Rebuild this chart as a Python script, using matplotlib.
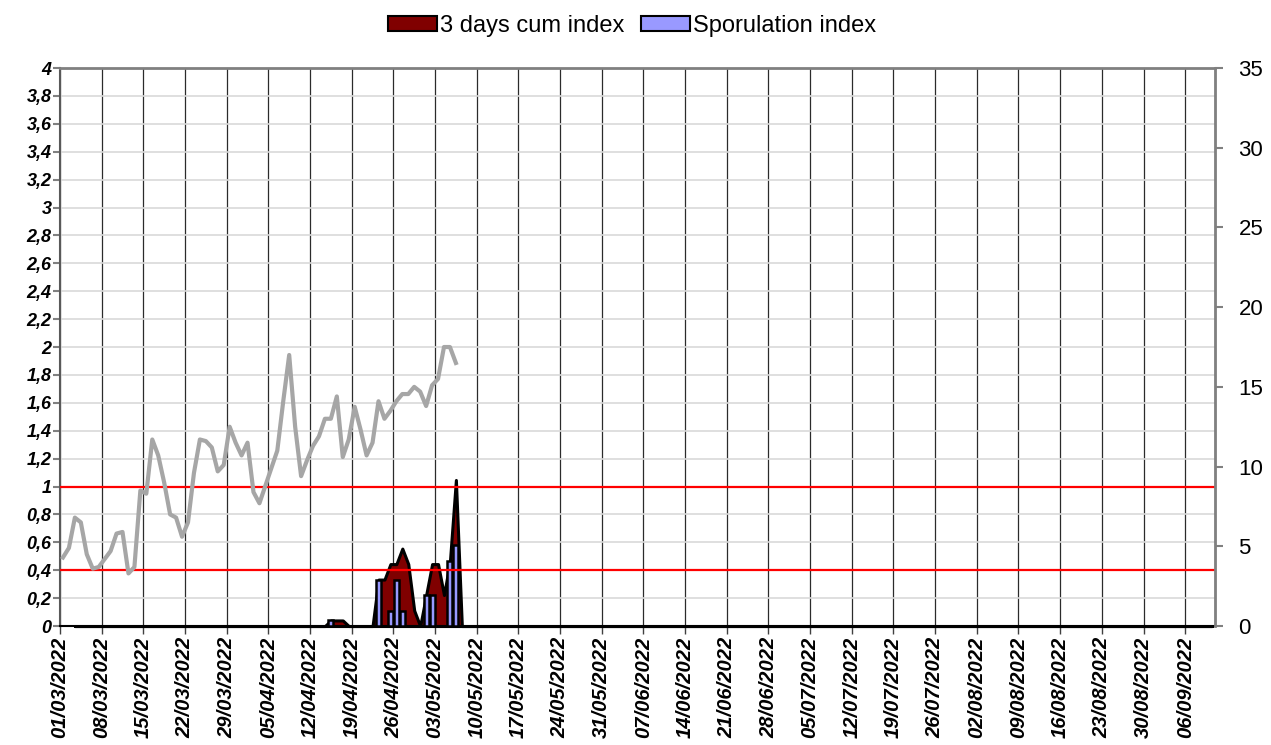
import numpy as np
import pandas as pd
import matplotlib
matplotlib.use("Agg")
import matplotlib.pyplot as plt
from matplotlib.patches import Patch

plt.rcParams["font.family"] = ["Liberation Sans", "DejaVu Sans"]

start = pd.Timestamp("2022-03-01")
n_days = 194

# daily temperature (right axis), one value per day from 01/03
temperature = [4.3, 4.9, 6.8, 6.5, 4.5, 3.6, 3.7, 4.2, 4.7, 5.8,
               5.9, 3.3, 3.7, 8.5, 8.3, 11.7, 10.7, 9.0, 7.0, 6.8,
               5.6, 6.5, 9.6, 11.7, 11.6, 11.2, 9.7, 10.1, 12.5, 11.5,
               10.7, 11.5, 8.4, 7.7, 8.8, 9.9, 11.0, 14.1, 17.0, 12.5,
               9.4, 10.4, 11.3, 11.9, 13.0, 13.0, 14.4, 10.6, 11.7, 13.75,
               12.3, 10.7, 11.5, 14.1, 13.0, 13.5, 14.1, 14.55, 14.55, 15.0,
               14.7, 13.8, 15.1, 15.5, 17.5, 17.5, 16.5]

# sporulation index (non-zero days, offset from 01/03)
spor_days = [45, 53, 55, 56, 57, 61, 62, 65, 66]
spor_vals = [0.04, 0.333, 0.111, 0.333, 0.111, 0.222, 0.222, 0.466, 0.581]

# 3 days cumulative index, series runs from day 2 to the end of the season
cum_first_day = 2
cum_days = [45, 46, 47, 53, 54, 55, 56, 57, 58, 59, 61, 62, 63, 64, 65, 66]
cum_vals = [0.04, 0.04, 0.04, 0.333, 0.333, 0.444, 0.444, 0.555, 0.444,
            0.111, 0.222, 0.444, 0.444, 0.222, 0.466, 1.047]

thresholds = [0.4, 1.0]

cum_x = np.arange(cum_first_day, n_days)
cum = pd.Series(0.0, index=cum_x)
cum.loc[cum_days] = cum_vals

fig = plt.figure(figsize=(12.71, 7.45), dpi=100)
ax = fig.add_axes([0.0472, 0.1597, 0.9087, 0.7490])

ax.set_xlim(0, n_days)
ax.set_ylim(0, 4)

yt = np.round(np.arange(0, 4.01, 0.2), 1)
ax.set_yticks(yt)
ax.set_yticklabels([f"{v:g}".replace(".", ",") for v in yt],
                   fontsize=13, fontweight="bold", fontstyle="italic")
xt = np.arange(0, n_days - 4, 7)
ax.set_xticks(xt)
ax.set_xticklabels([(start + pd.Timedelta(days=int(d))).strftime("%d/%m/%Y") for d in xt],
                   rotation=90, fontsize=14.5, fontweight="bold", fontstyle="italic")

ax.yaxis.grid(True, color="#D9D9D9", lw=1.2)
ax.xaxis.grid(True, color="#2b2b2b", lw=0.9)
ax.set_axisbelow(True)

# cumulative index as area, sporulation as bars
ax.fill_between(cum.index + 0.5, 0, cum.values, facecolor="#800000",
                edgecolor="black", lw=2.2, zorder=2, clip_on=False)
ax.bar(np.array(spor_days) + 0.5, spor_vals, width=0.85, color="#9999FF",
       edgecolor="black", lw=1.8, zorder=3)
for t in thresholds:
    ax.axhline(t, color="#FF0000", lw=1.6, zorder=5)

ax.tick_params(axis="y", direction="out", length=5, width=1.5, color="#808080", pad=1)
ax.tick_params(axis="x", direction="out", length=6, width=1, color="#404040", pad=2)
ax.spines["top"].set_color("#808080")
ax.spines["top"].set_linewidth(2)
ax.spines["left"].set_color("#595959")
ax.spines["left"].set_linewidth(1.5)
ax.spines["bottom"].set_color("black")
ax.spines["bottom"].set_linewidth(1.5)

ax2 = ax.twinx()
ax2.plot(np.arange(len(temperature)) + 0.5, temperature, color="#A6A6A6", lw=3)
ax2.set_ylim(0, 35)
ax2.set_yticks(range(0, 36, 5))
ax2.tick_params(axis="y", direction="out", length=6, width=1.5, color="#808080",
                labelsize=16, pad=11)
ax2.spines["right"].set_color("#808080")
ax2.spines["right"].set_linewidth(2)
for s in ("top", "left", "bottom"):
    ax2.spines[s].set_visible(False)

handles = [Patch(facecolor="#800000", edgecolor="black", lw=1.5, label="3 days cum index"),
           Patch(facecolor="#9999FF", edgecolor="black", lw=1.5, label="Sporulation index")]
fig.legend(handles=handles, loc="upper center", bbox_to_anchor=(0.497, 1.008), ncol=2,
           frameon=False, fontsize=17, handlelength=2.1, handleheight=0.6,
           handletextpad=0.1, columnspacing=0.7)

fig.savefig("out.png", dpi=100)
